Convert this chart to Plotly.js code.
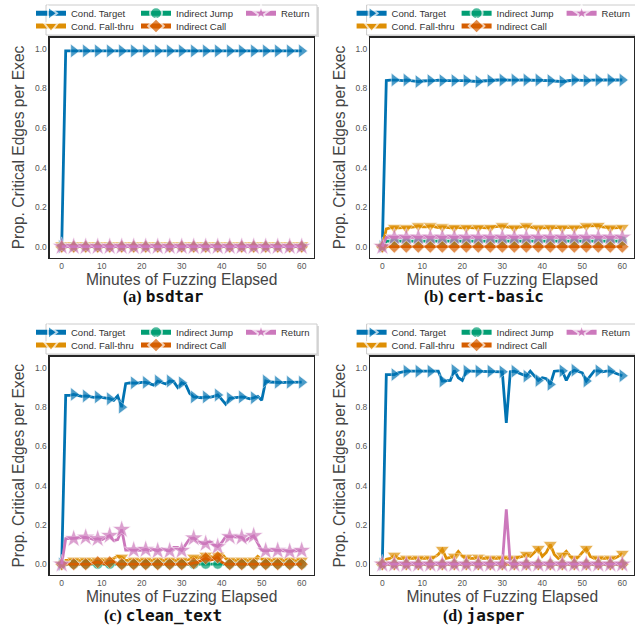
<!DOCTYPE html>
<html><head><meta charset="utf-8">
<script src="https://cdn.plot.ly/plotly-3.0.1.min.js"></script>
<style>html,body{margin:0;padding:0;background:#fff;} #chart{width:635px;height:633px;}</style>
</head><body><div id="chart"></div>
<script>
// ---------------- DATA ----------------
const minutes = [0,1,2,3,4,5,6,7,8,9,10,11,12,13,14,15,16,17,18,19,20,21,22,23,24,25,26,27,28,29,30,31,32,33,34,35,36,37,38,39,40,41,42,43,44,45,46,47,48,49,50,51,52,53,54,55,56,57,58,59,60];
const seriesNames = ['Cond. Target','Cond. Fall-thru','Indirect Jump','Indirect Call','Return'];
const panelLetters = ['(a) ','(b) ','(c) ','(d) '];
const programNames = ['bsdtar','cert-basic','clean_text','jasper'];
const xTickVals = [0,10,20,30,40,50,60];
const yTickVals = [0,0.2,0.4,0.6,0.8,1.0];
const xTitle = 'Minutes of Fuzzing Elapsed';
const yTitle = 'Prop. Critical Edges per Exec';

// (a) bsdtar
const bsdtarCondTarget = [0,0.99,0.99,0.99,0.99,0.99,0.99,0.99,0.99,0.99,0.99,0.99,0.99,0.99,0.99,0.99,0.99,0.99,0.99,0.99,0.99,0.99,0.99,0.99,0.99,0.99,0.99,0.99,0.99,0.99,0.99,0.99,0.99,0.99,0.99,0.99,0.99,0.99,0.99,0.99,0.99,0.99,0.99,0.99,0.99,0.99,0.99,0.99,0.99,0.99,0.99,0.99,0.99,0.99,0.99,0.99,0.99,0.99,0.99,0.99,0.99];
const bsdtarCondFallthru = [0.008,0.008,0.008,0.008,0.008,0.008,0.008,0.008,0.008,0.008,0.008,0.008,0.008,0.008,0.008,0.008,0.008,0.008,0.008,0.008,0.008,0.008,0.008,0.008,0.008,0.008,0.008,0.008,0.008,0.008,0.008,0.008,0.008,0.008,0.008,0.008,0.008,0.008,0.008,0.008,0.008,0.008,0.008,0.008,0.008,0.008,0.008,0.008,0.008,0.008,0.008,0.008,0.008,0.008,0.008,0.008,0.008,0.008,0.008,0.008,0.008];
const bsdtarIndirectJump = [0,0,0,0,0,0,0,0,0,0,0,0,0,0,0,0,0,0,0,0,0,0,0,0,0,0,0,0,0,0,0,0,0,0,0,0,0,0,0,0,0,0,0,0,0,0,0,0,0,0,0,0,0,0,0,0,0,0,0,0,0];
const bsdtarIndirectCall = [0,0,0,0,0,0,0,0,0,0,0,0,0,0,0,0,0,0,0,0,0,0,0,0,0,0,0,0,0,0,0,0,0,0,0,0,0,0,0,0,0,0,0,0,0,0,0,0,0,0,0,0,0,0,0,0,0,0,0,0,0];
const bsdtarReturn = [0,0,0,0,0,0,0,0,0,0,0,0,0,0,0,0,0,0,0,0,0,0,0,0,0,0,0,0,0,0,0,0,0,0,0,0,0,0,0,0,0,0,0,0,0,0,0,0,0,0,0,0,0,0,0,0,0,0,0,0,0];

// (b) cert-basic
const certCondTarget = [0,0.84,0.842,0.843,0.842,0.84,0.843,0.84,0.838,0.835,0.838,0.84,0.84,0.84,0.842,0.84,0.84,0.841,0.84,0.84,0.842,0.84,0.838,0.837,0.835,0.838,0.84,0.84,0.842,0.843,0.843,0.842,0.843,0.843,0.842,0.843,0.843,0.842,0.843,0.843,0.842,0.84,0.84,0.838,0.836,0.835,0.838,0.841,0.843,0.842,0.84,0.84,0.842,0.843,0.843,0.842,0.843,0.843,0.843,0.843,0.843];
const certCondFallthru = [0,0.09,0.095,0.097,0.095,0.095,0.095,0.097,0.1,0.105,0.1,0.1,0.105,0.1,0.097,0.1,0.097,0.095,0.097,0.095,0.095,0.097,0.095,0.095,0.097,0.095,0.095,0.097,0.1,0.1,0.105,0.1,0.097,0.095,0.097,0.1,0.105,0.1,0.095,0.095,0.095,0.095,0.097,0.095,0.095,0.095,0.095,0.095,0.095,0.097,0.1,0.105,0.105,0.105,0.107,0.1,0.097,0.095,0.095,0.095,0.097];
const certIndirectJump = [0,0.028,0.028,0.028,0.028,0.028,0.028,0.028,0.028,0.028,0.028,0.028,0.028,0.028,0.028,0.028,0.028,0.028,0.028,0.028,0.028,0.028,0.028,0.028,0.028,0.028,0.028,0.028,0.028,0.028,0.028,0.028,0.028,0.028,0.028,0.028,0.028,0.028,0.028,0.028,0.028,0.028,0.028,0.028,0.028,0.028,0.028,0.028,0.028,0.028,0.028,0.028,0.028,0.028,0.028,0.028,0.028,0.028,0.028,0.028,0.028];
const certIndirectCall = [0,0,0,0,0,0,0,0,0,0,0,0,0,0,0,0,0,0,0,0,0,0,0,0,0,0,0,0,0,0,0,0,0,0,0,0,0,0,0,0,0,0,0,0,0,0,0,0,0,0,0,0,0,0,0,0,0,0,0,0,0];
const certReturn = [0,0.047,0.047,0.047,0.047,0.047,0.047,0.047,0.047,0.047,0.047,0.047,0.047,0.047,0.047,0.047,0.047,0.047,0.047,0.047,0.047,0.047,0.047,0.047,0.047,0.047,0.047,0.047,0.047,0.047,0.047,0.047,0.047,0.047,0.047,0.047,0.047,0.047,0.047,0.047,0.047,0.047,0.047,0.047,0.047,0.047,0.047,0.047,0.047,0.047,0.047,0.047,0.047,0.047,0.047,0.047,0.047,0.047,0.047,0.047,0.047];

// (c) clean_text
const cleanCondTarget = [0,0.86,0.86,0.865,0.86,0.855,0.857,0.855,0.85,0.852,0.848,0.845,0.843,0.835,0.857,0.80,0.92,0.924,0.924,0.922,0.926,0.926,0.92,0.912,0.933,0.925,0.918,0.933,0.93,0.90,0.924,0.915,0.87,0.852,0.85,0.848,0.852,0.85,0.855,0.862,0.84,0.815,0.845,0.848,0.85,0.852,0.848,0.842,0.848,0.855,0.835,0.933,0.928,0.926,0.927,0.925,0.926,0.927,0.926,0.926,0.927];
const cleanCondFallthru = [0,0.02,0.02,0.02,0.02,0.02,0.02,0.02,0.02,0.02,0.02,0.02,0.02,0.03,0.04,0.035,0.02,0.02,0.02,0.02,0.02,0.02,0.02,0.02,0.02,0.02,0.02,0.02,0.02,0.02,0.02,0.02,0.025,0.035,0.03,0.04,0.045,0.04,0.035,0.045,0.055,0.03,0.02,0.02,0.02,0.02,0.02,0.02,0.02,0.04,0.025,0.02,0.02,0.02,0.02,0.02,0.02,0.02,0.02,0.02,0.02];
const cleanIndirectJump = [0,0,0,0,0,0,0,0,0,0,0,0,0,0,0,0,0,0,0,0,0,0,0,0,0,0,0,0,0,0,0,0,0,0,0,0,0,0,0,0,0,0,0,0,0,0,0,0,0,0,0,0,0,0,0,0,0,0,0,0,0];
const cleanIndirectCall = [0,0,0,0,0,0,0,0,0.005,0.01,0.005,0,0.01,0.015,0,0,0,0,0,0,0,0,0,0,0,0,0,0,0,0,0,0,0,0.005,0.01,0.02,0.03,0.02,0.025,0.035,0.01,0,0,0,0,0,0,0,0,0,0,0,0,0,0,0,0,0,0,0,0];
const cleanReturn = [0,0.13,0.13,0.13,0.133,0.135,0.137,0.132,0.125,0.13,0.125,0.135,0.146,0.12,0.125,0.177,0.072,0.072,0.072,0.072,0.07,0.075,0.07,0.075,0.068,0.08,0.07,0.068,0.085,0.085,0.07,0.1,0.13,0.133,0.12,0.105,0.105,0.117,0.1,0.09,0.11,0.14,0.14,0.138,0.137,0.137,0.12,0.135,0.145,0.11,0.07,0.068,0.07,0.07,0.07,0.068,0.067,0.065,0.067,0.068,0.07];

// (d) jasper
const jasperCondTarget = [0,0.966,0.966,0.966,0.975,0.98,0.983,0.983,0.983,0.983,0.983,0.983,0.983,0.985,0.983,0.933,0.936,0.936,0.987,0.95,0.936,0.983,0.983,0.983,0.983,0.983,0.98,0.983,0.98,0.98,0.98,0.72,0.98,0.983,0.975,0.97,0.958,0.983,0.96,0.936,0.95,0.945,0.916,0.983,0.985,0.985,0.936,0.975,0.988,0.98,0.975,0.933,0.96,0.985,0.985,0.98,0.983,0.983,0.975,0.966,0.96];
const jasperCondFallthru = [0,0.025,0.03,0.045,0.03,0.028,0.03,0.03,0.03,0.03,0.03,0.03,0.03,0.035,0.05,0.075,0.03,0.035,0.04,0.065,0.04,0.035,0.03,0.03,0.035,0.03,0.03,0.03,0.03,0.03,0.03,0.03,0.03,0.03,0.035,0.04,0.05,0.04,0.06,0.08,0.04,0.06,0.1,0.05,0.03,0.045,0.065,0.04,0.03,0.035,0.06,0.08,0.04,0.03,0.03,0.03,0.03,0.03,0.03,0.04,0.055];
const jasperIndirectJump = [0,0,0,0,0,0,0,0,0,0,0,0,0,0,0,0,0,0,0,0,0,0,0,0,0,0,0,0,0,0,0,0,0,0,0,0,0,0,0,0,0,0,0,0,0,0,0,0,0,0,0,0,0,0,0,0,0,0,0,0,0];
const jasperIndirectCall = [0,0,0,0,0,0,0,0,0,0,0,0,0,0,0,0,0,0,0,0,0,0,0,0,0,0,0,0,0,0,0,0,0,0,0,0,0,0,0,0,0,0,0,0,0,0,0,0,0,0,0,0,0,0,0,0,0,0,0,0,0];
const jasperReturn = [0,0,0,0,0,0,0,0,0,0,0,0,0,0,0,0,0,0,0,0,0,0,0,0,0,0,0,0,0,0,0,0.28,0,0,0,0,0,0,0,0,0,0,0,0,0,0,0,0,0,0,0,0,0,0,0,0,0,0,0,0,0];

const panelSeries = [
  [bsdtarCondTarget, bsdtarCondFallthru, bsdtarIndirectJump, bsdtarIndirectCall, bsdtarReturn],
  [certCondTarget, certCondFallthru, certIndirectJump, certIndirectCall, certReturn],
  [cleanCondTarget, cleanCondFallthru, cleanIndirectJump, cleanIndirectCall, cleanReturn],
  [jasperCondTarget, jasperCondFallthru, jasperIndirectJump, jasperIndirectCall, jasperReturn]
];

// ---------------- STYLE ----------------
const W = 635, H = 633;
const colors = ['#0173b2','#de8f05','#029e73','#d55e00','#cc78bc'];
const symbols = ['triangle-right','triangle-down','circle','diamond','star'];
const msizes = [12,12,10,10,14];
const legendRowOf = [0,1,0,1,0];
const markEvery = 3;
const colX = [0, 320.6];
const rowY = [0, 319];
const plotX = [[49.7,313.7],[370.3,634.3]];
const plotY = [[37.5,257.5],[356.5,575]];
const font = 'Liberation Sans, Arial, sans-serif';

const traces = [];
const layout = {
  width: W, height: H,
  margin: {l:0, r:0, t:0, b:0, autoexpand:false},
  paper_bgcolor: '#fff', plot_bgcolor: '#fff',
  showlegend: true, hovermode: false,
  annotations: [], shapes: []
};

for (let p = 0; p < 4; p++) {
  const c = p % 2, r = Math.floor(p / 2);
  const ax = p === 0 ? '' : String(p + 1);
  const xName = 'x' + ax, yName = 'y' + ax;
  panelSeries[p].forEach((vals, s) => {
    const legIdx = p * 2 + legendRowOf[s] + 1;
    const sizeArr = vals.map((v, i) => (i % markEvery === 0 ? msizes[s] : 0));
    const lwArr = vals.map((v, i) => (i % markEvery === 0 ? 0.6 : 0));
    traces.push({
      type: 'scatter', mode: 'lines+markers',
      x: minutes, y: vals, name: seriesNames[s],
      xaxis: xName, yaxis: yName,
      legend: legIdx === 1 ? 'legend' : 'legend' + legIdx,
      line: {color: colors[s], width: 2.8},
      marker: {color: colors[s], symbol: symbols[s], size: sizeArr, line: {color: '#ffffff', width: lwArr}},
      cliponaxis: true
    });
  });
  layout['xaxis' + ax] = {
    domain: [plotX[c][0] / W, plotX[c][1] / W], anchor: yName,
    range: [-3, 63], tickvals: xTickVals, ticks: '', showgrid: false, zeroline: false,
    showline: true, mirror: true, linecolor: '#262626', linewidth: 1.25,
    tickfont: {family: font, size: 8.5, color: '#555'},
    title: {text: xTitle, font: {family: font, size: 15.6, color: '#444'}, standoff: 2}
  };
  layout['yaxis' + ax] = {
    domain: [1 - plotY[r][1] / H, 1 - plotY[r][0] / H], anchor: xName,
    range: [-0.055, 1.058], tickvals: yTickVals, tickformat: '.1f', ticks: '', showgrid: false, zeroline: false,
    showline: true, mirror: true, linecolor: '#262626', linewidth: 1.25,
    tickfont: {family: font, size: 8.5, color: '#555'},
    title: {text: yTitle, font: {family: font, size: 15.6, color: '#444'}, standoff: 6}
  };
  // legend frame (shadow + box)
  const fx0 = 46 + colX[c], fx1 = 317 + colX[c] + (c === 1 ? 4 : 0);
  const fy0 = 5 + rowY[r], fy1 = 35 + rowY[r];
  layout.shapes.push({type: 'rect', xref: 'paper', yref: 'paper', layer: 'below',
    x0: (fx0 + 2) / W, x1: (fx1 + 2) / W, y0: 1 - (fy1 + 2) / H, y1: 1 - (fy0 + 2) / H,
    fillcolor: 'rgba(0,0,0,0.15)', line: {width: 0}});
  layout.shapes.push({type: 'rect', xref: 'paper', yref: 'paper', layer: 'below',
    x0: fx0 / W, x1: fx1 / W, y0: 1 - fy1 / H, y1: 1 - fy0 / H,
    fillcolor: '#ffffff', line: {color: '#cccccc', width: 1}});
  // two legend rows
  [[-1.2, 0], [11.5, 1]].forEach(([top, row]) => {
    const legIdx = p * 2 + row + 1;
    layout[legIdx === 1 ? 'legend' : 'legend' + legIdx] = {
      orientation: 'h', x: (31 + colX[c]) / W, xanchor: 'left',
      y: 1 - (top + rowY[r]) / H, yanchor: 'top',
      bgcolor: 'rgba(0,0,0,0)', borderwidth: 0,
      font: {family: font, size: 9.5, color: '#333'},
      itemsizing: 'constant', entrywidth: 60, entrywidthmode: 'pixels',
      traceorder: 'normal', itemclick: false, itemdoubleclick: false
    };
  });
  // caption
  layout.annotations.push({
    xref: 'paper', yref: 'paper', x: (163 + colX[c]) / W, y: 1 - (296 + rowY[r]) / H,
    xanchor: 'center', yanchor: 'middle', showarrow: false,
    text: '<b>' + panelLetters[p] + '</b><span style="font-family:DejaVu Sans Mono"><b>' + programNames[p] + '</b></span>',
    font: {family: 'Liberation Serif, DejaVu Serif, serif', size: 16, color: '#111'}
  });
}

Plotly.newPlot('chart', traces, layout, {displayModeBar: false, staticPlot: true});
</script>
</body></html>
